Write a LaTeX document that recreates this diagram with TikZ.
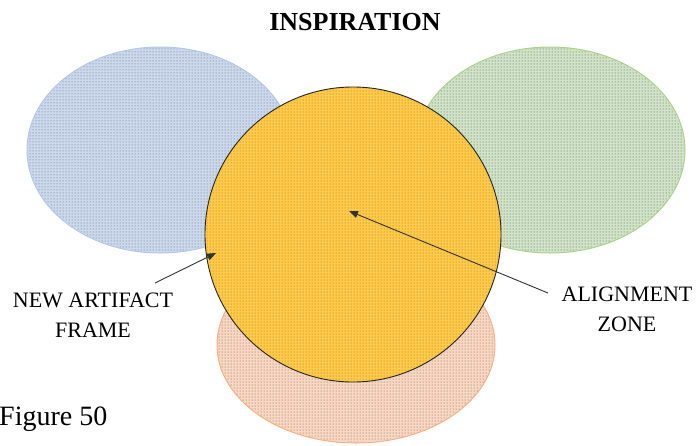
\documentclass[tikz,border=0pt]{standalone}
\usepackage{fontspec}
\setmainfont{Liberation Serif}
\usetikzlibrary{shapes.geometric,patterns,arrows.meta}
\definecolor{bluefill}{HTML}{CCD9EC}
\definecolor{blueedge}{HTML}{B4C7E7}
\definecolor{bluedot}{HTML}{56647A}
\definecolor{greenfill}{HTML}{D2E4C8}
\definecolor{greenedge}{HTML}{A9D18E}
\definecolor{greendot}{HTML}{3F5238}
\definecolor{yelfill}{HTML}{FFCB48}
\definecolor{yeldot}{HTML}{9A6424}
\definecolor{peachfill}{HTML}{F9D7C2}
\definecolor{peachedge}{HTML}{F4B183}
\definecolor{peachdot}{HTML}{6E564A}
\tikzset{
  blob/.style={ellipse, inner sep=0pt, line width=1pt},
  lbl/.style={font=\fontsize{22}{30}\selectfont, align=center, inner sep=0pt},
  pointer/.style={-{Triangle[length=9pt,width=7pt]}, line width=0.9pt, draw=black!80},
}
\begin{document}
\begin{tikzpicture}[x=1pt,y=-1pt]
\useasboundingbox (0,0) rectangle (696,445);
% blue
\node[blob, fill=bluefill, draw=blueedge, minimum width=266pt, minimum height=206pt] (blue) at (160,150) {};
\fill[pattern=dots, pattern color=bluedot] (160,150) ellipse [x radius=132pt, y radius=102pt];
% green
\node[blob, fill=greenfill, draw=greenedge, minimum width=270pt, minimum height=206pt] (green) at (550,150) {};
\fill[pattern=dots, pattern color=greendot] (550,150) ellipse [x radius=134pt, y radius=102pt];
% peach
\node[blob, fill=peachfill, draw=peachedge, minimum width=278pt, minimum height=196pt] (peach) at (356,345) {};
\fill[pattern=dots, pattern color=peachdot] (356,345) ellipse [x radius=138pt, y radius=97pt];
% yellow
\node[blob, fill=yelfill, minimum width=296pt, minimum height=295pt] (yellow) at (353,234.5) {};
\fill[pattern=dots, pattern color=yeldot] (353,234.5) ellipse [x radius=148pt, y radius=147.5pt];
\draw[line width=0.9pt, black!85] (353,234.5) ellipse [x radius=148pt, y radius=147.5pt];
% texts
\node[font=\fontsize{26}{30}\selectfont\bfseries, inner sep=0pt, anchor=base] (title) at (355,30) {INSPIRATION};
\node[lbl, anchor=north] (naf) at (93,293) {NEW ARTIFACT\\FRAME};
\node[lbl, anchor=north] (az) at (627,287) {ALIGNMENT\\ZONE};
\node[font=\fontsize{28}{30}\selectfont, inner sep=0pt, anchor=base west] (fig) at (-1,425) {Figure 50};
% pointers
\coordinate (nafs) at (155,283);
\coordinate (naft) at (216,253);
\coordinate (azs) at (548,293);
\coordinate (azt) at (349,211);
\draw[pointer] (nafs) -- (naft);
\draw[pointer] (azs) -- (azt);
\end{tikzpicture}
\end{document}
